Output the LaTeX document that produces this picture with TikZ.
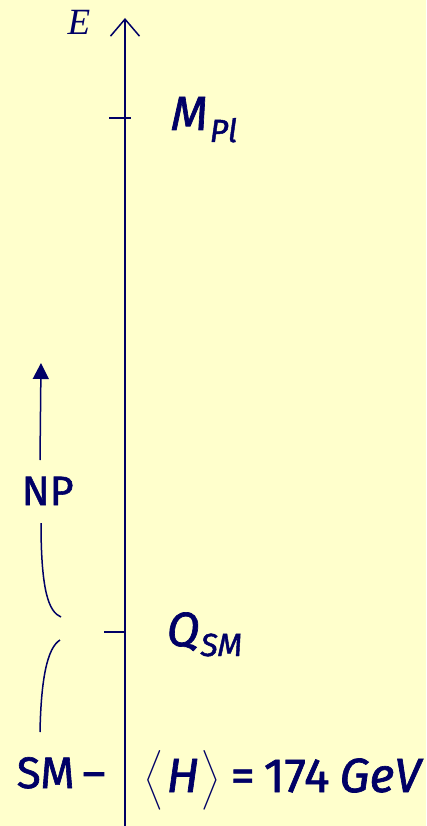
\RequirePackage{fix-cm}
\documentclass[tikz,border=0pt]{standalone}
\usepackage{amsmath}
\usepackage{fontspec}
\setmainfont{Fira Sans}[FakeBold=1.4]
\newfontfamily\axisfont{Liberation Serif}
\usepackage{xcolor}
\usetikzlibrary{arrows.meta,positioning}
\definecolor{paper}{RGB}{255,255,204}
\definecolor{ink}{RGB}{0,0,102}
\newcommand{\bigtxt}{\fontsize{48}{48}\selectfont}
\newcommand{\subtxt}{\fontsize{32}{32}\selectfont}
\newcommand{\vevbra}[1]{$\left#1\rule[-15pt]{0pt}{47pt}\right.$}

\begin{document}
\begin{tikzpicture}[x=1pt,y=-1pt,ink,line width=1.5pt,
  scalelbl/.style={inner sep=0pt,anchor=base west,font=\bigtxt\itshape},
  sidelbl/.style={inner sep=0pt,anchor=base west,font=\fontsize{44}{44}\selectfont}]

% ---------------- background ----------------
\fill[paper] (0,0) rectangle (426,826);
\useasboundingbox (0,0) rectangle (426,826);

% energy axis
\coordinate (axbot) at (125,828);
\coordinate (axtop) at (125,18);
\draw[-{Straight Barb[length=17pt,width=29pt,line width=1.5pt]}] (axbot) -- (axtop);
\node[font=\fontsize{37}{37}\selectfont\axisfont\itshape] (elbl) at (79,22) {E};

% ticks
\coordinate (tickpl) at (125,118);
\coordinate (ticksm) at (125,632);
\draw ([xshift=-16pt]tickpl) -- ([xshift=6pt]tickpl);
\draw ([xshift=-21pt]ticksm) -- (ticksm);

% scale labels
\node[scalelbl] (mpl) at (170,130) {M\kern2pt\raisebox{-12pt}{\subtxt Pl}};
\node[scalelbl] (qsm) at (166,646) {Q\kern1pt\raisebox{-10pt}{\subtxt SM}};
\node[inner sep=0pt,anchor=base west,font=\fontsize{48}{48}\selectfont] (vev) at (144,792)
  {\vevbra\langle\kern2pt\textit{H}\kern3pt\vevbra\rangle\kern9pt=\kern9pt174\kern10pt\textit{GeV}};

% left side: SM and NP
\node[sidelbl] (sm) at (16,788) {SM\kern8pt–};
\node[sidelbl,font=\fontsize{41}{41}\selectfont] (np) at (21,505) {NP};

\coordinate (nptip) at (41,363);
\coordinate (npfoot) at (40,460);
\coordinate (npbrace) at (61,617);
\coordinate (smbrace) at (60,640);
\coordinate (smfoot) at (40,732);
\draw[-{Triangle[length=16pt,width=16pt]}] (npfoot) -- (nptip);
\draw (41,523) .. controls (41,592) and (49,612) .. (npbrace);
\draw (smbrace) .. controls (47,648) and (41,680) .. (smfoot);

\end{tikzpicture}
\end{document}
